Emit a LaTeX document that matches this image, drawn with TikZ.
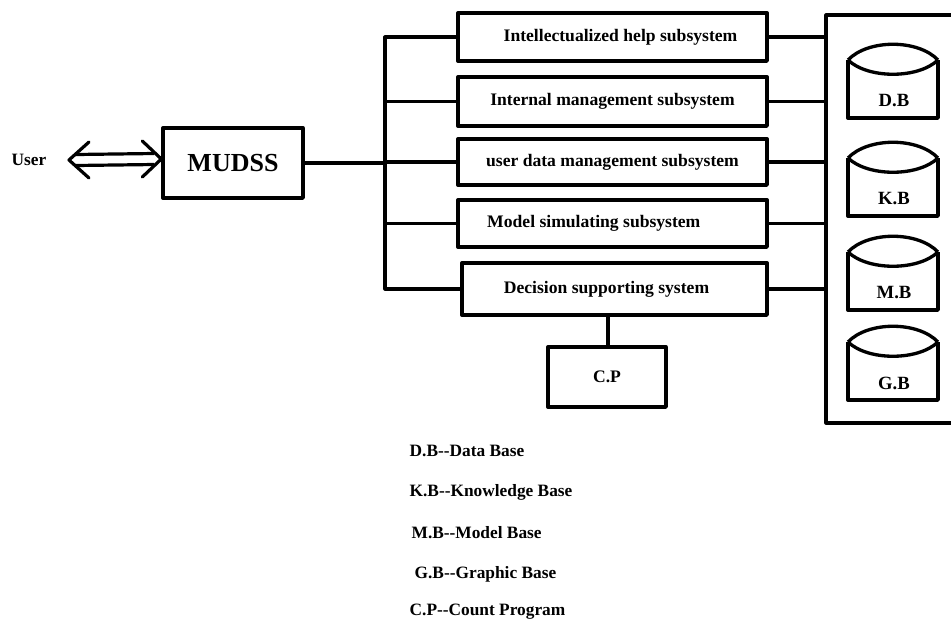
\documentclass[tikz,border=0pt]{standalone}
\usepackage{fontspec}
\setmainfont{Liberation Serif}
\usetikzlibrary{calc}
\begin{document}
\begin{tikzpicture}[x=0.75pt,y=-0.75pt, line width=2.5pt, line join=round,
  box/.style={draw, rectangle, line width=2.5pt, inner sep=0pt, font=\bfseries\fontsize{13.2}{15}\selectfont},
  lbl/.style={font=\bfseries\fontsize{13}{15}\selectfont, inner sep=0pt},
  cyl/.style={font=\bfseries\fontsize{14}{16}\selectfont, inner sep=0pt},
  conn/.style={draw, line width=2.4pt}]
\useasboundingbox (0,0) rectangle (951,626);

% user and MUDSS
\node[lbl] (user) at (29,160) {User};
\node[box, minimum width=105pt, minimum height=52.5pt, font=\bfseries\fontsize{19.5}{22}\selectfont] (mudss) at (233,163) {MUDSS};

% double arrow between user and MUDSS
\coordinate (aL) at ($(user.east)+(21,0)$);
\coordinate (aR) at ($(mudss.west)+(0,-4)$);
\draw[conn] ($(aL)+(7,-5.5)$) -- ($(aR)+(-7,-5.5)$);
\draw[conn] ($(aL)+(7,5.5)$) -- ($(aR)+(-7,5.5)$);
\draw[conn, line cap=round] ($(aL)+(20,-18)$) -- (aL) -- ($(aL)+(20,18)$);
\draw[conn, line cap=round] ($(aR)+(-19,-18)$) -- (aR) -- ($(aR)+(-19,18)$);

% subsystems
\node[box, minimum width=231.75pt, minimum height=36pt] (s1) at (612.5,37) {\hspace*{12pt}Intellectualized help subsystem};
\node[box, minimum width=231.75pt, minimum height=36.75pt] (s2) at (612.5,101.5) {Internal management subsystem};
\node[box, minimum width=231.75pt, minimum height=34.5pt] (s3) at (612.5,162) {user data management subsystem};
\node[box, minimum width=231.75pt, minimum height=35.25pt] (s4) at (612.5,223.5) {\hspace*{-28pt}Model simulating subsystem};
\node[box, minimum width=228.75pt, minimum height=39pt] (s5) at (614.5,289) {\hspace*{-12pt}Decision supporting system};
\node[box, minimum width=88.5pt, minimum height=45pt] (cp) at (607,377) {C.P};

% left bus
\coordinate (lb1) at (385,37);
\coordinate (lb5) at (385,289);
\draw[conn] (mudss.east) -- (mudss.east -| lb1);
\draw[conn] (s1.west) -- (lb1) -- (lb5) -- (s5.west);
\foreach \s in {s2,s3,s4} \draw[conn] (\s.west) -- (\s.west -| lb1);

% right bus / database frame
\coordinate (fr1) at (826,15);
\coordinate (fr2) at (826,423);
\draw[conn] (951,15) -- (fr1) -- (fr2) -- (951,423);
\foreach \s in {s1,s2,s3,s4,s5} \draw[conn] (\s.east) -- (\s.east -| fr1);

% C.P connector
\draw[conn] (s5.south -| cp.north) ++(1,0) coordinate (cpt) -- (cpt |- cp.north);

% database cylinders
\foreach \t/\n/\lab in {45/db/D.B, 143/kb/K.B, 237/mb/M.B, 327/gb/G.B}{
  \draw (848,\t+15) -- (848,\t+73) -- (938,\t+73) -- (938,\t+15);
  \draw (848,\t+15) .. controls (868,\t-6) and (918,\t-6) .. (938,\t+15);
  \draw (848,\t+15) .. controls (868,\t+34) and (918,\t+34) .. (938,\t+15);
  \node[cyl] (\n) at (894,\t+56) {\lab};
}

% legend
\node[lbl, anchor=west] (l1) at (408,451) {D.B-{}-Data Base};
\node[lbl, anchor=west] (l2) at (408,492) {K.B-{}-Knowledge Base};
\node[lbl, anchor=west] (l3) at (410,533) {M.B-{}-Model Base};
\node[lbl, anchor=west] (l4) at (413,574) {G.B-{}-Graphic Base};
\node[lbl, anchor=west] (l5) at (408,612) {C.P-{}-Count Program};
\end{tikzpicture}
\end{document}
